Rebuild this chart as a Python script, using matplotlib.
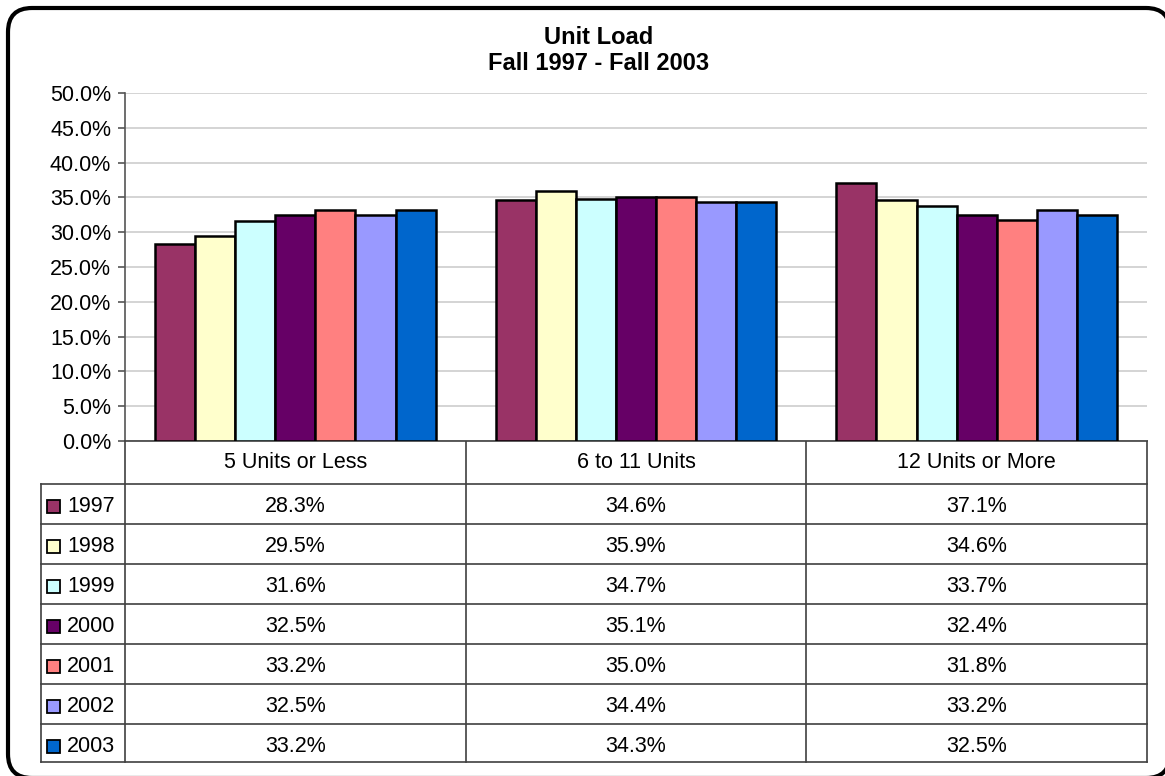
import matplotlib
matplotlib.use('Agg')
import matplotlib.pyplot as plt
from matplotlib.patches import FancyBboxPatch, Rectangle
from matplotlib.ticker import FuncFormatter
import numpy as np

plt.rcParams['font.family'] = ['Liberation Sans', 'DejaVu Sans']

# data (percent of students)
categories = ['5 Units or Less', '6 to 11 Units', '12 Units or More']
years = ['1997', '1998', '1999', '2000', '2001', '2002', '2003']
v1997 = [28.3, 34.6, 37.1]
v1998 = [29.5, 35.9, 34.6]
v1999 = [31.6, 34.7, 33.7]
v2000 = [32.5, 35.1, 32.4]
v2001 = [33.2, 35.0, 31.8]
v2002 = [32.5, 34.4, 33.2]
v2003 = [33.2, 34.3, 32.5]
series = [v1997, v1998, v1999, v2000, v2001, v2002, v2003]
colors = ['#993366', '#FFFFCC', '#CCFFFF', '#660066', '#FF8080', '#9999FF', '#0066CC']

W, H = 1165, 776
fig = plt.figure(figsize=(W / 100, H / 100), dpi=100)

# background axes in pixel units: frame, title, data table
bg = fig.add_axes([0, 0, 1, 1])
bg.set_xlim(0, W)
bg.set_ylim(H, 0)
bg.axis('off')
bg.add_patch(FancyBboxPatch((8, 8), 1162, 770, boxstyle='round,pad=0,rounding_size=24',
                            fc='white', ec='black', lw=3, clip_on=False))

# plot area
L, R, T, B = 125, 1147, 93, 441
ax = fig.add_axes([L / W, 1 - B / H, (R - L) / W, (B - T) / H])
ax.set_zorder(2)
ax.patch.set_alpha(0)

x = np.arange(len(categories))
bw = 1 / (len(years) + 1.5)
for j, (vals, c) in enumerate(zip(series, colors)):
    ax.bar(x + (j - 3) * bw, vals, bw, color=c, edgecolor='black', linewidth=1.8,
           label=years[j], zorder=3)

ax.set_xlim(-0.5, len(categories) - 0.5)
ax.set_ylim(0, 50)
ax.set_yticks(np.arange(0, 50.1, 5))
ax.yaxis.set_major_formatter(FuncFormatter(lambda v, p: f'{v:.1f}%'))
ax.set_xticks([])
ax.grid(axis='y', color='#d4d4d4', lw=1.4, zorder=0)
for s in ['top', 'right']:
    ax.spines[s].set_visible(False)
ax.spines['left'].set_color('#555555')
ax.spines['left'].set_linewidth(1.2)
ax.spines['bottom'].set_color('#404040')
ax.spines['bottom'].set_linewidth(1.2)
ax.tick_params(axis='y', direction='out', length=5, width=1.2, color='#555555',
               labelsize=15.5, pad=5)

# title
bg.text(599, 37, 'Unit Load', ha='center', va='center', fontsize=17, fontweight='bold')
bg.text(599, 63, 'Fall 1997 - Fall 2003', ha='center', va='center', fontsize=17,
        fontweight='bold')

# data table under the plot
line_c = '#404040'
lw_t = 1.2
leg_l = 41
hdr_b = 484
row_h = 40
tab_b = hdr_b + row_h * len(years) - 2
col_w = (R - L) / len(categories)

bg.plot([L, L], [B, tab_b], color=line_c, lw=lw_t)
bg.plot([leg_l, leg_l], [hdr_b, tab_b], color=line_c, lw=lw_t)
for k in range(1, len(categories) + 1):
    bg.plot([L + k * col_w] * 2, [B, tab_b], color=line_c, lw=lw_t)
for k in range(len(years)):
    bg.plot([leg_l, R], [hdr_b + k * row_h] * 2, color=line_c, lw=lw_t)
bg.plot([leg_l, R], [tab_b, tab_b], color=line_c, lw=lw_t)

for i, cat in enumerate(categories):
    bg.text(L + (i + 0.5) * col_w, (B + hdr_b) / 2, cat, ha='center', va='center',
            fontsize=15.5)

for k, (yr, vals, c) in enumerate(zip(years, series, colors)):
    yc = hdr_b + k * row_h + row_h / 2 + 2
    bg.add_patch(Rectangle((47, yc - 6.5), 13, 13, fc=c, ec='black', lw=1.3))
    bg.text(67, yc, yr, ha='left', va='center', fontsize=15.5)
    for i, v in enumerate(vals):
        bg.text(L + (i + 0.5) * col_w, yc, f'{v:.1f}%', ha='center', va='center',
                fontsize=15.5)

fig.savefig('out.png', dpi=100)
